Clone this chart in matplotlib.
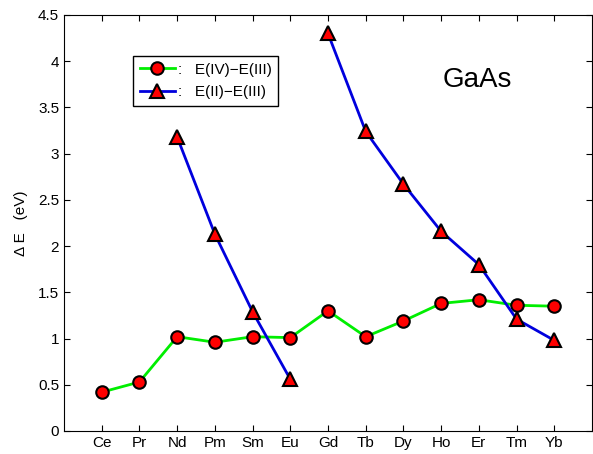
import numpy as np
import matplotlib
matplotlib.use('Agg')
import matplotlib.pyplot as plt

plt.rcParams['font.family'] = ['Liberation Sans', 'DejaVu Sans']

elements = ['Ce', 'Pr', 'Nd', 'Pm', 'Sm', 'Eu', 'Gd', 'Tb', 'Dy', 'Ho', 'Er', 'Tm', 'Yb']
e_iv_iii = [0.42, 0.53, 1.02, 0.96, 1.02, 1.01, 1.30, 1.02, 1.19, 1.38, 1.42, 1.36, 1.35]
e_ii_iii = [np.nan, np.nan, 3.18, 2.13, 1.29, 0.56, 4.30, 3.24, 2.67, 2.16, 1.80, 1.21, 0.98]

x = np.arange(1, len(elements) + 1)
# break the blue curve between Eu and Gd
xb = np.concatenate([x[:6], [np.nan], x[6:]])
yb = np.concatenate([e_ii_iii[:6], [np.nan], e_ii_iii[6:]])

fig = plt.figure(figsize=(5.93, 4.54), dpi=100)
ax = fig.add_axes([64 / 593, 1 - 431 / 454, 528 / 593, 416 / 454])

ax.plot(x, e_iv_iii, '-', color='#00ee00', lw=2, marker='o', ms=9,
        mfc='red', mec='black', mew=1.5, label=':   E(IV)\u2212E(III)')
ax.plot(xb, yb, '-', color='#0000dd', lw=2, marker='^', ms=10,
        mfc='red', mec='black', mew=1.5, label=':   E(II)\u2212E(III)')

ax.set_xlim(0, 14)
ax.set_ylim(0, 4.5)
ax.set_xticks(x)
ax.set_xticklabels(elements)
ax.set_yticks(np.arange(0, 4.51, 0.5))
ax.set_yticklabels(['0', '0.5', '1', '1.5', '2', '2.5', '3', '3.5', '4', '4.5'])
ax.tick_params(direction='in', length=4, labelsize=11, top=True, right=True)
ax.set_ylabel('\u0394 E   (eV)', fontsize=11, labelpad=7)

ax.text(10.95, 3.80, 'GaAs', fontsize=20, ha='center', va='center')

ax.legend(loc='upper left', bbox_to_anchor=(61 / 528, 1 - 33 / 416), fontsize=11,
          fancybox=False, edgecolor='black', framealpha=1, handlelength=2.3,
          borderpad=0.45, labelspacing=0.55, handletextpad=0.2)

fig.savefig('out.png', dpi=100)
